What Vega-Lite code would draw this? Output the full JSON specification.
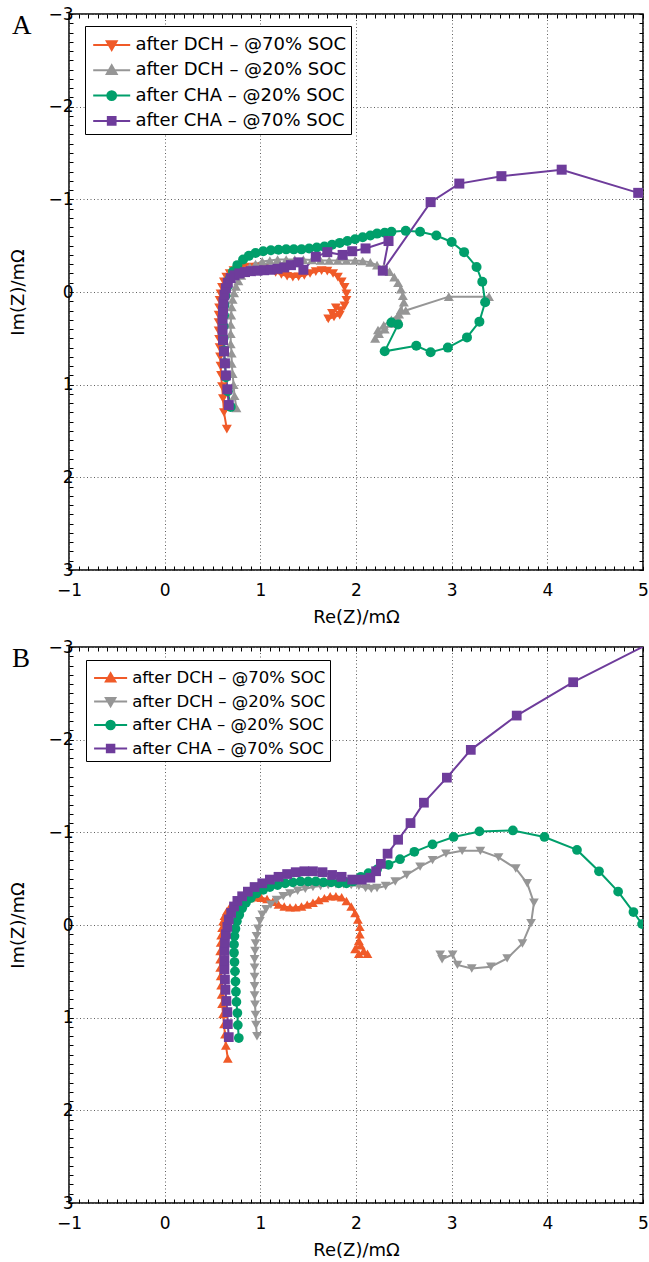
{
  "$schema": "https://vega.github.io/schema/vega-lite/v6.json",
  "background": "white",
  "padding": {"left": 9, "top": 4, "right": 3, "bottom": 3},
  "config": {
    "view": {"stroke": "black", "strokeWidth": 1.5},
    "axis": {"domain": false, "tickColor": "black", "tickSize": -4, "tickWidth": 1, "tickCount": 60, "format": "d", "labelOverlap": false, "labelFlush": false, "labelExpr": "abs(datum.value - round(datum.value)) < 0.000001 ? datum.label : ''", "gridOpacity": {"condition": {"test": "abs(datum.value - round(datum.value)) < 0.000001", "value": 1}, "value": 0}, "labelFont": "DejaVu Sans", "labelFontSize": 17, "labelColor": "black", "titleFont": "DejaVu Sans", "titleFontSize": 18, "titleFontWeight": "normal", "titleColor": "black", "gridColor": "#606060", "gridDash": [1, 2.5], "gridWidth": 1},
    "legend": {"labelFont": "DejaVu Sans", "labelColor": "black", "strokeColor": "black", "fillColor": "white", "labelLimit": 400}
  },
  "datasets": {
    "A": [
      {"s": "after DCH – @70% SOC", "i": 1, "re": 0.65, "im": 1.48},
      {"s": "after DCH – @70% SOC", "i": 2, "re": 0.62, "im": 1.30},
      {"s": "after DCH – @70% SOC", "i": 3, "re": 0.61, "im": 1.15},
      {"s": "after DCH – @70% SOC", "i": 4, "re": 0.60, "im": 1.02},
      {"s": "after DCH – @70% SOC", "i": 5, "re": 0.59, "im": 0.90},
      {"s": "after DCH – @70% SOC", "i": 6, "re": 0.585, "im": 0.80},
      {"s": "after DCH – @70% SOC", "i": 7, "re": 0.58, "im": 0.70},
      {"s": "after DCH – @70% SOC", "i": 8, "re": 0.575, "im": 0.60},
      {"s": "after DCH – @70% SOC", "i": 9, "re": 0.57, "im": 0.51},
      {"s": "after DCH – @70% SOC", "i": 10, "re": 0.565, "im": 0.42},
      {"s": "after DCH – @70% SOC", "i": 11, "re": 0.565, "im": 0.33},
      {"s": "after DCH – @70% SOC", "i": 12, "re": 0.565, "im": 0.25},
      {"s": "after DCH – @70% SOC", "i": 13, "re": 0.57, "im": 0.17},
      {"s": "after DCH – @70% SOC", "i": 14, "re": 0.575, "im": 0.09},
      {"s": "after DCH – @70% SOC", "i": 15, "re": 0.585, "im": 0.02},
      {"s": "after DCH – @70% SOC", "i": 16, "re": 0.60, "im": -0.05},
      {"s": "after DCH – @70% SOC", "i": 17, "re": 0.62, "im": -0.11},
      {"s": "after DCH – @70% SOC", "i": 18, "re": 0.645, "im": -0.16},
      {"s": "after DCH – @70% SOC", "i": 19, "re": 0.68, "im": -0.20},
      {"s": "after DCH – @70% SOC", "i": 20, "re": 0.72, "im": -0.23},
      {"s": "after DCH – @70% SOC", "i": 21, "re": 0.77, "im": -0.25},
      {"s": "after DCH – @70% SOC", "i": 22, "re": 0.83, "im": -0.265},
      {"s": "after DCH – @70% SOC", "i": 23, "re": 0.90, "im": -0.27},
      {"s": "after DCH – @70% SOC", "i": 24, "re": 0.97, "im": -0.27},
      {"s": "after DCH – @70% SOC", "i": 25, "re": 1.04, "im": -0.26},
      {"s": "after DCH – @70% SOC", "i": 26, "re": 1.10, "im": -0.24},
      {"s": "after DCH – @70% SOC", "i": 27, "re": 1.16, "im": -0.21},
      {"s": "after DCH – @70% SOC", "i": 28, "re": 1.22, "im": -0.19},
      {"s": "after DCH – @70% SOC", "i": 29, "re": 1.28, "im": -0.17},
      {"s": "after DCH – @70% SOC", "i": 30, "re": 1.34, "im": -0.16},
      {"s": "after DCH – @70% SOC", "i": 31, "re": 1.40, "im": -0.165},
      {"s": "after DCH – @70% SOC", "i": 32, "re": 1.46, "im": -0.18},
      {"s": "after DCH – @70% SOC", "i": 33, "re": 1.52, "im": -0.20},
      {"s": "after DCH – @70% SOC", "i": 34, "re": 1.58, "im": -0.22},
      {"s": "after DCH – @70% SOC", "i": 35, "re": 1.64, "im": -0.23},
      {"s": "after DCH – @70% SOC", "i": 36, "re": 1.70, "im": -0.225},
      {"s": "after DCH – @70% SOC", "i": 37, "re": 1.76, "im": -0.20},
      {"s": "after DCH – @70% SOC", "i": 38, "re": 1.81, "im": -0.16},
      {"s": "after DCH – @70% SOC", "i": 39, "re": 1.85, "im": -0.11},
      {"s": "after DCH – @70% SOC", "i": 40, "re": 1.88, "im": -0.05},
      {"s": "after DCH – @70% SOC", "i": 41, "re": 1.90, "im": 0.02},
      {"s": "after DCH – @70% SOC", "i": 42, "re": 1.90, "im": 0.09},
      {"s": "after DCH – @70% SOC", "i": 43, "re": 1.88, "im": 0.15},
      {"s": "after DCH – @70% SOC", "i": 44, "re": 1.84, "im": 0.20},
      {"s": "after DCH – @70% SOC", "i": 45, "re": 1.79, "im": 0.17},
      {"s": "after DCH – @70% SOC", "i": 46, "re": 1.75, "im": 0.23},
      {"s": "after DCH – @70% SOC", "i": 47, "re": 1.71, "im": 0.29},
      {"s": "after DCH – @70% SOC", "i": 48, "re": 1.77, "im": 0.27},
      {"s": "after DCH – @70% SOC", "i": 49, "re": 1.83, "im": 0.25},
      {"s": "after DCH – @20% SOC", "i": 1, "re": 0.75, "im": 1.25},
      {"s": "after DCH – @20% SOC", "i": 2, "re": 0.73, "im": 1.12},
      {"s": "after DCH – @20% SOC", "i": 3, "re": 0.72, "im": 1.00},
      {"s": "after DCH – @20% SOC", "i": 4, "re": 0.71, "im": 0.88},
      {"s": "after DCH – @20% SOC", "i": 5, "re": 0.70, "im": 0.77},
      {"s": "after DCH – @20% SOC", "i": 6, "re": 0.70, "im": 0.66},
      {"s": "after DCH – @20% SOC", "i": 7, "re": 0.69, "im": 0.56},
      {"s": "after DCH – @20% SOC", "i": 8, "re": 0.69, "im": 0.45},
      {"s": "after DCH – @20% SOC", "i": 9, "re": 0.69, "im": 0.35},
      {"s": "after DCH – @20% SOC", "i": 10, "re": 0.695, "im": 0.25},
      {"s": "after DCH – @20% SOC", "i": 11, "re": 0.70, "im": 0.16},
      {"s": "after DCH – @20% SOC", "i": 12, "re": 0.71, "im": 0.08},
      {"s": "after DCH – @20% SOC", "i": 13, "re": 0.725, "im": 0.01},
      {"s": "after DCH – @20% SOC", "i": 14, "re": 0.745, "im": -0.06},
      {"s": "after DCH – @20% SOC", "i": 15, "re": 0.77, "im": -0.12},
      {"s": "after DCH – @20% SOC", "i": 16, "re": 0.80, "im": -0.18},
      {"s": "after DCH – @20% SOC", "i": 17, "re": 0.84, "im": -0.23},
      {"s": "after DCH – @20% SOC", "i": 18, "re": 0.89, "im": -0.27},
      {"s": "after DCH – @20% SOC", "i": 19, "re": 0.95, "im": -0.30},
      {"s": "after DCH – @20% SOC", "i": 20, "re": 1.02, "im": -0.33},
      {"s": "after DCH – @20% SOC", "i": 21, "re": 1.10, "im": -0.34},
      {"s": "after DCH – @20% SOC", "i": 22, "re": 1.18, "im": -0.35},
      {"s": "after DCH – @20% SOC", "i": 23, "re": 1.27, "im": -0.35},
      {"s": "after DCH – @20% SOC", "i": 24, "re": 1.36, "im": -0.35},
      {"s": "after DCH – @20% SOC", "i": 25, "re": 1.45, "im": -0.35},
      {"s": "after DCH – @20% SOC", "i": 26, "re": 1.54, "im": -0.345},
      {"s": "after DCH – @20% SOC", "i": 27, "re": 1.63, "im": -0.34},
      {"s": "after DCH – @20% SOC", "i": 28, "re": 1.72, "im": -0.34},
      {"s": "after DCH – @20% SOC", "i": 29, "re": 1.81, "im": -0.34},
      {"s": "after DCH – @20% SOC", "i": 30, "re": 1.90, "im": -0.34},
      {"s": "after DCH – @20% SOC", "i": 31, "re": 1.99, "im": -0.34},
      {"s": "after DCH – @20% SOC", "i": 32, "re": 2.07, "im": -0.335},
      {"s": "after DCH – @20% SOC", "i": 33, "re": 2.15, "im": -0.32},
      {"s": "after DCH – @20% SOC", "i": 34, "re": 2.22, "im": -0.29},
      {"s": "after DCH – @20% SOC", "i": 35, "re": 2.29, "im": -0.26},
      {"s": "after DCH – @20% SOC", "i": 36, "re": 2.35, "im": -0.22},
      {"s": "after DCH – @20% SOC", "i": 37, "re": 2.40, "im": -0.16},
      {"s": "after DCH – @20% SOC", "i": 38, "re": 2.44, "im": -0.10},
      {"s": "after DCH – @20% SOC", "i": 39, "re": 2.47, "im": -0.03},
      {"s": "after DCH – @20% SOC", "i": 40, "re": 2.49, "im": 0.04},
      {"s": "after DCH – @20% SOC", "i": 41, "re": 2.50, "im": 0.11},
      {"s": "after DCH – @20% SOC", "i": 42, "re": 2.47, "im": 0.19},
      {"s": "after DCH – @20% SOC", "i": 43, "re": 2.43, "im": 0.27},
      {"s": "after DCH – @20% SOC", "i": 44, "re": 2.37, "im": 0.34},
      {"s": "after DCH – @20% SOC", "i": 45, "re": 2.30, "im": 0.40},
      {"s": "after DCH – @20% SOC", "i": 46, "re": 2.24, "im": 0.45},
      {"s": "after DCH – @20% SOC", "i": 47, "re": 2.20, "im": 0.50},
      {"s": "after DCH – @20% SOC", "i": 48, "re": 2.23, "im": 0.41},
      {"s": "after DCH – @20% SOC", "i": 49, "re": 2.29, "im": 0.36},
      {"s": "after DCH – @20% SOC", "i": 50, "re": 2.37, "im": 0.30},
      {"s": "after DCH – @20% SOC", "i": 51, "re": 2.45, "im": 0.24},
      {"s": "after DCH – @20% SOC", "i": 52, "re": 2.52, "im": 0.20},
      {"s": "after DCH – @20% SOC", "i": 53, "re": 2.97, "im": 0.05},
      {"s": "after DCH – @20% SOC", "i": 54, "re": 3.39, "im": 0.05},
      {"s": "after CHA – @20% SOC", "i": 1, "re": 0.69, "im": 1.24},
      {"s": "after CHA – @20% SOC", "i": 2, "re": 0.66, "im": 1.07},
      {"s": "after CHA – @20% SOC", "i": 3, "re": 0.64, "im": 0.92},
      {"s": "after CHA – @20% SOC", "i": 4, "re": 0.63, "im": 0.77},
      {"s": "after CHA – @20% SOC", "i": 5, "re": 0.62, "im": 0.63},
      {"s": "after CHA – @20% SOC", "i": 6, "re": 0.615, "im": 0.50},
      {"s": "after CHA – @20% SOC", "i": 7, "re": 0.615, "im": 0.37},
      {"s": "after CHA – @20% SOC", "i": 8, "re": 0.62, "im": 0.25},
      {"s": "after CHA – @20% SOC", "i": 9, "re": 0.625, "im": 0.14},
      {"s": "after CHA – @20% SOC", "i": 10, "re": 0.635, "im": 0.04},
      {"s": "after CHA – @20% SOC", "i": 11, "re": 0.655, "im": -0.06},
      {"s": "after CHA – @20% SOC", "i": 12, "re": 0.68, "im": -0.14},
      {"s": "after CHA – @20% SOC", "i": 13, "re": 0.715, "im": -0.22},
      {"s": "after CHA – @20% SOC", "i": 14, "re": 0.76, "im": -0.29},
      {"s": "after CHA – @20% SOC", "i": 15, "re": 0.82, "im": -0.35},
      {"s": "after CHA – @20% SOC", "i": 16, "re": 0.88, "im": -0.39},
      {"s": "after CHA – @20% SOC", "i": 17, "re": 0.95, "im": -0.42},
      {"s": "after CHA – @20% SOC", "i": 18, "re": 1.03, "im": -0.44},
      {"s": "after CHA – @20% SOC", "i": 19, "re": 1.11, "im": -0.45},
      {"s": "after CHA – @20% SOC", "i": 20, "re": 1.19, "im": -0.455},
      {"s": "after CHA – @20% SOC", "i": 21, "re": 1.27, "im": -0.46},
      {"s": "after CHA – @20% SOC", "i": 22, "re": 1.35, "im": -0.46},
      {"s": "after CHA – @20% SOC", "i": 23, "re": 1.43, "im": -0.46},
      {"s": "after CHA – @20% SOC", "i": 24, "re": 1.51, "im": -0.47},
      {"s": "after CHA – @20% SOC", "i": 25, "re": 1.59, "im": -0.48},
      {"s": "after CHA – @20% SOC", "i": 26, "re": 1.67, "im": -0.49},
      {"s": "after CHA – @20% SOC", "i": 27, "re": 1.75, "im": -0.51},
      {"s": "after CHA – @20% SOC", "i": 28, "re": 1.83, "im": -0.53},
      {"s": "after CHA – @20% SOC", "i": 29, "re": 1.91, "im": -0.55},
      {"s": "after CHA – @20% SOC", "i": 30, "re": 1.99, "im": -0.57},
      {"s": "after CHA – @20% SOC", "i": 31, "re": 2.07, "im": -0.59},
      {"s": "after CHA – @20% SOC", "i": 32, "re": 2.15, "im": -0.61},
      {"s": "after CHA – @20% SOC", "i": 33, "re": 2.22, "im": -0.63},
      {"s": "after CHA – @20% SOC", "i": 34, "re": 2.30, "im": -0.64},
      {"s": "after CHA – @20% SOC", "i": 35, "re": 2.37, "im": -0.65},
      {"s": "after CHA – @20% SOC", "i": 36, "re": 2.52, "im": -0.66},
      {"s": "after CHA – @20% SOC", "i": 37, "re": 2.67, "im": -0.65},
      {"s": "after CHA – @20% SOC", "i": 38, "re": 2.84, "im": -0.61},
      {"s": "after CHA – @20% SOC", "i": 39, "re": 3.00, "im": -0.54},
      {"s": "after CHA – @20% SOC", "i": 40, "re": 3.13, "im": -0.43},
      {"s": "after CHA – @20% SOC", "i": 41, "re": 3.26, "im": -0.27},
      {"s": "after CHA – @20% SOC", "i": 42, "re": 3.32, "im": -0.11},
      {"s": "after CHA – @20% SOC", "i": 43, "re": 3.35, "im": 0.11},
      {"s": "after CHA – @20% SOC", "i": 44, "re": 3.29, "im": 0.32},
      {"s": "after CHA – @20% SOC", "i": 45, "re": 3.16, "im": 0.49},
      {"s": "after CHA – @20% SOC", "i": 46, "re": 2.96, "im": 0.60},
      {"s": "after CHA – @20% SOC", "i": 47, "re": 2.78, "im": 0.65},
      {"s": "after CHA – @20% SOC", "i": 48, "re": 2.63, "im": 0.58},
      {"s": "after CHA – @20% SOC", "i": 49, "re": 2.30, "im": 0.64},
      {"s": "after CHA – @20% SOC", "i": 50, "re": 2.44, "im": 0.35},
      {"s": "after CHA – @20% SOC", "i": 51, "re": 2.37, "im": 0.33},
      {"s": "after CHA – @70% SOC", "i": 1, "re": 0.67, "im": 1.22},
      {"s": "after CHA – @70% SOC", "i": 2, "re": 0.655, "im": 1.05},
      {"s": "after CHA – @70% SOC", "i": 3, "re": 0.64, "im": 0.90},
      {"s": "after CHA – @70% SOC", "i": 4, "re": 0.63, "im": 0.77},
      {"s": "after CHA – @70% SOC", "i": 5, "re": 0.62, "im": 0.64},
      {"s": "after CHA – @70% SOC", "i": 6, "re": 0.61, "im": 0.52},
      {"s": "after CHA – @70% SOC", "i": 7, "re": 0.605, "im": 0.41},
      {"s": "after CHA – @70% SOC", "i": 8, "re": 0.605, "im": 0.30},
      {"s": "after CHA – @70% SOC", "i": 9, "re": 0.61, "im": 0.20},
      {"s": "after CHA – @70% SOC", "i": 10, "re": 0.615, "im": 0.11},
      {"s": "after CHA – @70% SOC", "i": 11, "re": 0.625, "im": 0.03},
      {"s": "after CHA – @70% SOC", "i": 12, "re": 0.64, "im": -0.04},
      {"s": "after CHA – @70% SOC", "i": 13, "re": 0.66, "im": -0.10},
      {"s": "after CHA – @70% SOC", "i": 14, "re": 0.69, "im": -0.15},
      {"s": "after CHA – @70% SOC", "i": 15, "re": 0.73, "im": -0.18},
      {"s": "after CHA – @70% SOC", "i": 16, "re": 0.78, "im": -0.20},
      {"s": "after CHA – @70% SOC", "i": 17, "re": 0.84, "im": -0.215},
      {"s": "after CHA – @70% SOC", "i": 18, "re": 0.90, "im": -0.225},
      {"s": "after CHA – @70% SOC", "i": 19, "re": 0.97, "im": -0.23},
      {"s": "after CHA – @70% SOC", "i": 20, "re": 1.04, "im": -0.235},
      {"s": "after CHA – @70% SOC", "i": 21, "re": 1.11, "im": -0.24},
      {"s": "after CHA – @70% SOC", "i": 22, "re": 1.18, "im": -0.25},
      {"s": "after CHA – @70% SOC", "i": 23, "re": 1.25, "im": -0.265},
      {"s": "after CHA – @70% SOC", "i": 24, "re": 1.32, "im": -0.29},
      {"s": "after CHA – @70% SOC", "i": 25, "re": 1.40, "im": -0.32},
      {"s": "after CHA – @70% SOC", "i": 26, "re": 1.45, "im": -0.24},
      {"s": "after CHA – @70% SOC", "i": 27, "re": 1.58, "im": -0.38},
      {"s": "after CHA – @70% SOC", "i": 28, "re": 1.70, "im": -0.43},
      {"s": "after CHA – @70% SOC", "i": 29, "re": 1.86, "im": -0.40},
      {"s": "after CHA – @70% SOC", "i": 30, "re": 1.96, "im": -0.44},
      {"s": "after CHA – @70% SOC", "i": 31, "re": 2.10, "im": -0.47},
      {"s": "after CHA – @70% SOC", "i": 32, "re": 2.34, "im": -0.55},
      {"s": "after CHA – @70% SOC", "i": 33, "re": 2.28, "im": -0.23},
      {"s": "after CHA – @70% SOC", "i": 34, "re": 2.78, "im": -0.97},
      {"s": "after CHA – @70% SOC", "i": 35, "re": 3.08, "im": -1.17},
      {"s": "after CHA – @70% SOC", "i": 36, "re": 3.52, "im": -1.25},
      {"s": "after CHA – @70% SOC", "i": 37, "re": 4.15, "im": -1.32},
      {"s": "after CHA – @70% SOC", "i": 38, "re": 4.95, "im": -1.07},
      {"s": "after CHA – @70% SOC", "i": 39, "re": 5.5, "im": -0.9}
    ],
    "B": [
      {"s": "after DCH – @70% SOC", "i": 1, "re": 0.66, "im": 1.44},
      {"s": "after DCH – @70% SOC", "i": 2, "re": 0.64, "im": 1.30},
      {"s": "after DCH – @70% SOC", "i": 3, "re": 0.63, "im": 1.18},
      {"s": "after DCH – @70% SOC", "i": 4, "re": 0.62, "im": 1.07},
      {"s": "after DCH – @70% SOC", "i": 5, "re": 0.61, "im": 0.96},
      {"s": "after DCH – @70% SOC", "i": 6, "re": 0.60, "im": 0.85},
      {"s": "after DCH – @70% SOC", "i": 7, "re": 0.595, "im": 0.75},
      {"s": "after DCH – @70% SOC", "i": 8, "re": 0.59, "im": 0.65},
      {"s": "after DCH – @70% SOC", "i": 9, "re": 0.585, "im": 0.55},
      {"s": "after DCH – @70% SOC", "i": 10, "re": 0.58, "im": 0.46},
      {"s": "after DCH – @70% SOC", "i": 11, "re": 0.58, "im": 0.37},
      {"s": "after DCH – @70% SOC", "i": 12, "re": 0.58, "im": 0.28},
      {"s": "after DCH – @70% SOC", "i": 13, "re": 0.585, "im": 0.19},
      {"s": "after DCH – @70% SOC", "i": 14, "re": 0.59, "im": 0.11},
      {"s": "after DCH – @70% SOC", "i": 15, "re": 0.60, "im": 0.03},
      {"s": "after DCH – @70% SOC", "i": 16, "re": 0.61, "im": -0.04},
      {"s": "after DCH – @70% SOC", "i": 17, "re": 0.625, "im": -0.10},
      {"s": "after DCH – @70% SOC", "i": 18, "re": 0.65, "im": -0.15},
      {"s": "after DCH – @70% SOC", "i": 19, "re": 0.68, "im": -0.19},
      {"s": "after DCH – @70% SOC", "i": 20, "re": 0.72, "im": -0.22},
      {"s": "after DCH – @70% SOC", "i": 21, "re": 0.77, "im": -0.25},
      {"s": "after DCH – @70% SOC", "i": 22, "re": 0.83, "im": -0.275},
      {"s": "after DCH – @70% SOC", "i": 23, "re": 0.89, "im": -0.29},
      {"s": "after DCH – @70% SOC", "i": 24, "re": 0.95, "im": -0.30},
      {"s": "after DCH – @70% SOC", "i": 25, "re": 1.01, "im": -0.295},
      {"s": "after DCH – @70% SOC", "i": 26, "re": 1.07, "im": -0.28},
      {"s": "after DCH – @70% SOC", "i": 27, "re": 1.13, "im": -0.25},
      {"s": "after DCH – @70% SOC", "i": 28, "re": 1.19, "im": -0.22},
      {"s": "after DCH – @70% SOC", "i": 29, "re": 1.25, "im": -0.20},
      {"s": "after DCH – @70% SOC", "i": 30, "re": 1.31, "im": -0.19},
      {"s": "after DCH – @70% SOC", "i": 31, "re": 1.37, "im": -0.19},
      {"s": "after DCH – @70% SOC", "i": 32, "re": 1.43, "im": -0.20},
      {"s": "after DCH – @70% SOC", "i": 33, "re": 1.49, "im": -0.22},
      {"s": "after DCH – @70% SOC", "i": 34, "re": 1.55, "im": -0.24},
      {"s": "after DCH – @70% SOC", "i": 35, "re": 1.61, "im": -0.27},
      {"s": "after DCH – @70% SOC", "i": 36, "re": 1.67, "im": -0.29},
      {"s": "after DCH – @70% SOC", "i": 37, "re": 1.73, "im": -0.31},
      {"s": "after DCH – @70% SOC", "i": 38, "re": 1.79, "im": -0.31},
      {"s": "after DCH – @70% SOC", "i": 39, "re": 1.85, "im": -0.30},
      {"s": "after DCH – @70% SOC", "i": 40, "re": 1.90, "im": -0.26},
      {"s": "after DCH – @70% SOC", "i": 41, "re": 1.95, "im": -0.20},
      {"s": "after DCH – @70% SOC", "i": 42, "re": 1.99, "im": -0.13},
      {"s": "after DCH – @70% SOC", "i": 43, "re": 2.02, "im": -0.06},
      {"s": "after DCH – @70% SOC", "i": 44, "re": 2.04, "im": 0.02},
      {"s": "after DCH – @70% SOC", "i": 45, "re": 2.04, "im": 0.10},
      {"s": "after DCH – @70% SOC", "i": 46, "re": 2.03, "im": 0.17},
      {"s": "after DCH – @70% SOC", "i": 47, "re": 1.99, "im": 0.26},
      {"s": "after DCH – @70% SOC", "i": 48, "re": 2.05, "im": 0.22},
      {"s": "after DCH – @70% SOC", "i": 49, "re": 2.08, "im": 0.28},
      {"s": "after DCH – @70% SOC", "i": 50, "re": 2.12, "im": 0.31},
      {"s": "after DCH – @70% SOC", "i": 51, "re": 2.03, "im": 0.31},
      {"s": "after DCH – @20% SOC", "i": 1, "re": 0.965, "im": 1.20},
      {"s": "after DCH – @20% SOC", "i": 2, "re": 0.955, "im": 1.08},
      {"s": "after DCH – @20% SOC", "i": 3, "re": 0.95, "im": 0.97},
      {"s": "after DCH – @20% SOC", "i": 4, "re": 0.945, "im": 0.86},
      {"s": "after DCH – @20% SOC", "i": 5, "re": 0.94, "im": 0.76},
      {"s": "after DCH – @20% SOC", "i": 6, "re": 0.94, "im": 0.66},
      {"s": "after DCH – @20% SOC", "i": 7, "re": 0.94, "im": 0.56},
      {"s": "after DCH – @20% SOC", "i": 8, "re": 0.94, "im": 0.46},
      {"s": "after DCH – @20% SOC", "i": 9, "re": 0.94, "im": 0.37},
      {"s": "after DCH – @20% SOC", "i": 10, "re": 0.945, "im": 0.28},
      {"s": "after DCH – @20% SOC", "i": 11, "re": 0.95, "im": 0.20},
      {"s": "after DCH – @20% SOC", "i": 12, "re": 0.96, "im": 0.12},
      {"s": "after DCH – @20% SOC", "i": 13, "re": 0.975, "im": 0.04},
      {"s": "after DCH – @20% SOC", "i": 14, "re": 0.995, "im": -0.04},
      {"s": "after DCH – @20% SOC", "i": 15, "re": 1.02, "im": -0.11},
      {"s": "after DCH – @20% SOC", "i": 16, "re": 1.06, "im": -0.17},
      {"s": "after DCH – @20% SOC", "i": 17, "re": 1.11, "im": -0.22},
      {"s": "after DCH – @20% SOC", "i": 18, "re": 1.17, "im": -0.27},
      {"s": "after DCH – @20% SOC", "i": 19, "re": 1.24, "im": -0.31},
      {"s": "after DCH – @20% SOC", "i": 20, "re": 1.31, "im": -0.34},
      {"s": "after DCH – @20% SOC", "i": 21, "re": 1.39, "im": -0.37},
      {"s": "after DCH – @20% SOC", "i": 22, "re": 1.47, "im": -0.39},
      {"s": "after DCH – @20% SOC", "i": 23, "re": 1.55, "im": -0.41},
      {"s": "after DCH – @20% SOC", "i": 24, "re": 1.63, "im": -0.42},
      {"s": "after DCH – @20% SOC", "i": 25, "re": 1.71, "im": -0.43},
      {"s": "after DCH – @20% SOC", "i": 26, "re": 1.79, "im": -0.44},
      {"s": "after DCH – @20% SOC", "i": 27, "re": 1.87, "im": -0.44},
      {"s": "after DCH – @20% SOC", "i": 28, "re": 1.95, "im": -0.43},
      {"s": "after DCH – @20% SOC", "i": 29, "re": 2.03, "im": -0.42},
      {"s": "after DCH – @20% SOC", "i": 30, "re": 2.10, "im": -0.40},
      {"s": "after DCH – @20% SOC", "i": 31, "re": 2.16, "im": -0.39},
      {"s": "after DCH – @20% SOC", "i": 32, "re": 2.22, "im": -0.40},
      {"s": "after DCH – @20% SOC", "i": 33, "re": 2.31, "im": -0.42},
      {"s": "after DCH – @20% SOC", "i": 34, "re": 2.41, "im": -0.47},
      {"s": "after DCH – @20% SOC", "i": 35, "re": 2.53, "im": -0.54},
      {"s": "after DCH – @20% SOC", "i": 36, "re": 2.67, "im": -0.63},
      {"s": "after DCH – @20% SOC", "i": 37, "re": 2.80, "im": -0.70},
      {"s": "after DCH – @20% SOC", "i": 38, "re": 2.94, "im": -0.77},
      {"s": "after DCH – @20% SOC", "i": 39, "re": 3.11, "im": -0.80},
      {"s": "after DCH – @20% SOC", "i": 40, "re": 3.30, "im": -0.80},
      {"s": "after DCH – @20% SOC", "i": 41, "re": 3.49, "im": -0.73},
      {"s": "after DCH – @20% SOC", "i": 42, "re": 3.67, "im": -0.61},
      {"s": "after DCH – @20% SOC", "i": 43, "re": 3.79, "im": -0.45},
      {"s": "after DCH – @20% SOC", "i": 44, "re": 3.86, "im": -0.24},
      {"s": "after DCH – @20% SOC", "i": 45, "re": 3.83, "im": -0.02},
      {"s": "after DCH – @20% SOC", "i": 46, "re": 3.74, "im": 0.20},
      {"s": "after DCH – @20% SOC", "i": 47, "re": 3.58, "im": 0.36},
      {"s": "after DCH – @20% SOC", "i": 48, "re": 3.41, "im": 0.45},
      {"s": "after DCH – @20% SOC", "i": 49, "re": 3.21, "im": 0.47},
      {"s": "after DCH – @20% SOC", "i": 50, "re": 3.06, "im": 0.43},
      {"s": "after DCH – @20% SOC", "i": 51, "re": 3.01, "im": 0.32},
      {"s": "after DCH – @20% SOC", "i": 52, "re": 2.90, "im": 0.37},
      {"s": "after DCH – @20% SOC", "i": 53, "re": 2.88, "im": 0.32},
      {"s": "after CHA – @20% SOC", "i": 1, "re": 0.775, "im": 1.22},
      {"s": "after CHA – @20% SOC", "i": 2, "re": 0.765, "im": 1.08},
      {"s": "after CHA – @20% SOC", "i": 3, "re": 0.76, "im": 0.95},
      {"s": "after CHA – @20% SOC", "i": 4, "re": 0.75, "im": 0.83},
      {"s": "after CHA – @20% SOC", "i": 5, "re": 0.745, "im": 0.72},
      {"s": "after CHA – @20% SOC", "i": 6, "re": 0.74, "im": 0.61},
      {"s": "after CHA – @20% SOC", "i": 7, "re": 0.735, "im": 0.50},
      {"s": "after CHA – @20% SOC", "i": 8, "re": 0.73, "im": 0.40},
      {"s": "after CHA – @20% SOC", "i": 9, "re": 0.725, "im": 0.30},
      {"s": "after CHA – @20% SOC", "i": 10, "re": 0.725, "im": 0.21},
      {"s": "after CHA – @20% SOC", "i": 11, "re": 0.73, "im": 0.12},
      {"s": "after CHA – @20% SOC", "i": 12, "re": 0.74, "im": 0.04},
      {"s": "after CHA – @20% SOC", "i": 13, "re": 0.755, "im": -0.04},
      {"s": "after CHA – @20% SOC", "i": 14, "re": 0.78, "im": -0.11},
      {"s": "after CHA – @20% SOC", "i": 15, "re": 0.81, "im": -0.18},
      {"s": "after CHA – @20% SOC", "i": 16, "re": 0.85, "im": -0.24},
      {"s": "after CHA – @20% SOC", "i": 17, "re": 0.90, "im": -0.29},
      {"s": "after CHA – @20% SOC", "i": 18, "re": 0.96, "im": -0.34},
      {"s": "after CHA – @20% SOC", "i": 19, "re": 1.03, "im": -0.38},
      {"s": "after CHA – @20% SOC", "i": 20, "re": 1.10, "im": -0.41},
      {"s": "after CHA – @20% SOC", "i": 21, "re": 1.18, "im": -0.43},
      {"s": "after CHA – @20% SOC", "i": 22, "re": 1.26, "im": -0.45},
      {"s": "after CHA – @20% SOC", "i": 23, "re": 1.34, "im": -0.46},
      {"s": "after CHA – @20% SOC", "i": 24, "re": 1.42, "im": -0.47},
      {"s": "after CHA – @20% SOC", "i": 25, "re": 1.50, "im": -0.47},
      {"s": "after CHA – @20% SOC", "i": 26, "re": 1.58, "im": -0.47},
      {"s": "after CHA – @20% SOC", "i": 27, "re": 1.66, "im": -0.46},
      {"s": "after CHA – @20% SOC", "i": 28, "re": 1.74, "im": -0.46},
      {"s": "after CHA – @20% SOC", "i": 29, "re": 1.82, "im": -0.45},
      {"s": "after CHA – @20% SOC", "i": 30, "re": 1.90, "im": -0.45},
      {"s": "after CHA – @20% SOC", "i": 31, "re": 1.97, "im": -0.47},
      {"s": "after CHA – @20% SOC", "i": 32, "re": 2.05, "im": -0.52},
      {"s": "after CHA – @20% SOC", "i": 33, "re": 2.13, "im": -0.56},
      {"s": "after CHA – @20% SOC", "i": 34, "re": 2.22, "im": -0.60},
      {"s": "after CHA – @20% SOC", "i": 35, "re": 2.34, "im": -0.65},
      {"s": "after CHA – @20% SOC", "i": 36, "re": 2.46, "im": -0.71},
      {"s": "after CHA – @20% SOC", "i": 37, "re": 2.61, "im": -0.79},
      {"s": "after CHA – @20% SOC", "i": 38, "re": 2.80, "im": -0.87},
      {"s": "after CHA – @20% SOC", "i": 39, "re": 3.02, "im": -0.95},
      {"s": "after CHA – @20% SOC", "i": 40, "re": 3.29, "im": -1.01},
      {"s": "after CHA – @20% SOC", "i": 41, "re": 3.64, "im": -1.02},
      {"s": "after CHA – @20% SOC", "i": 42, "re": 3.97, "im": -0.95},
      {"s": "after CHA – @20% SOC", "i": 43, "re": 4.31, "im": -0.81},
      {"s": "after CHA – @20% SOC", "i": 44, "re": 4.54, "im": -0.58},
      {"s": "after CHA – @20% SOC", "i": 45, "re": 4.74, "im": -0.36},
      {"s": "after CHA – @20% SOC", "i": 46, "re": 4.90, "im": -0.14},
      {"s": "after CHA – @20% SOC", "i": 47, "re": 4.99, "im": -0.01},
      {"s": "after CHA – @70% SOC", "i": 1, "re": 0.67, "im": 1.21},
      {"s": "after CHA – @70% SOC", "i": 2, "re": 0.66, "im": 1.07},
      {"s": "after CHA – @70% SOC", "i": 3, "re": 0.655, "im": 0.94},
      {"s": "after CHA – @70% SOC", "i": 4, "re": 0.645, "im": 0.82},
      {"s": "after CHA – @70% SOC", "i": 5, "re": 0.635, "im": 0.70},
      {"s": "after CHA – @70% SOC", "i": 6, "re": 0.63, "im": 0.59},
      {"s": "after CHA – @70% SOC", "i": 7, "re": 0.625, "im": 0.48},
      {"s": "after CHA – @70% SOC", "i": 8, "re": 0.625, "im": 0.38},
      {"s": "after CHA – @70% SOC", "i": 9, "re": 0.625, "im": 0.28},
      {"s": "after CHA – @70% SOC", "i": 10, "re": 0.63, "im": 0.19},
      {"s": "after CHA – @70% SOC", "i": 11, "re": 0.64, "im": 0.10},
      {"s": "after CHA – @70% SOC", "i": 12, "re": 0.655, "im": 0.02},
      {"s": "after CHA – @70% SOC", "i": 13, "re": 0.67, "im": -0.06},
      {"s": "after CHA – @70% SOC", "i": 14, "re": 0.695, "im": -0.13},
      {"s": "after CHA – @70% SOC", "i": 15, "re": 0.725, "im": -0.20},
      {"s": "after CHA – @70% SOC", "i": 16, "re": 0.76, "im": -0.26},
      {"s": "after CHA – @70% SOC", "i": 17, "re": 0.81, "im": -0.31},
      {"s": "after CHA – @70% SOC", "i": 18, "re": 0.87, "im": -0.36},
      {"s": "after CHA – @70% SOC", "i": 19, "re": 0.94, "im": -0.41},
      {"s": "after CHA – @70% SOC", "i": 20, "re": 1.02, "im": -0.45},
      {"s": "after CHA – @70% SOC", "i": 21, "re": 1.10, "im": -0.49},
      {"s": "after CHA – @70% SOC", "i": 22, "re": 1.19, "im": -0.52},
      {"s": "after CHA – @70% SOC", "i": 23, "re": 1.28, "im": -0.55},
      {"s": "after CHA – @70% SOC", "i": 24, "re": 1.37, "im": -0.57},
      {"s": "after CHA – @70% SOC", "i": 25, "re": 1.46, "im": -0.58},
      {"s": "after CHA – @70% SOC", "i": 26, "re": 1.55, "im": -0.58},
      {"s": "after CHA – @70% SOC", "i": 27, "re": 1.65, "im": -0.57},
      {"s": "after CHA – @70% SOC", "i": 28, "re": 1.75, "im": -0.54},
      {"s": "after CHA – @70% SOC", "i": 29, "re": 1.85, "im": -0.52},
      {"s": "after CHA – @70% SOC", "i": 30, "re": 1.96, "im": -0.49},
      {"s": "after CHA – @70% SOC", "i": 31, "re": 2.06, "im": -0.49},
      {"s": "after CHA – @70% SOC", "i": 32, "re": 2.15, "im": -0.51},
      {"s": "after CHA – @70% SOC", "i": 33, "re": 2.21, "im": -0.58},
      {"s": "after CHA – @70% SOC", "i": 34, "re": 2.26, "im": -0.66},
      {"s": "after CHA – @70% SOC", "i": 35, "re": 2.33, "im": -0.77},
      {"s": "after CHA – @70% SOC", "i": 36, "re": 2.44, "im": -0.92},
      {"s": "after CHA – @70% SOC", "i": 37, "re": 2.57, "im": -1.10},
      {"s": "after CHA – @70% SOC", "i": 38, "re": 2.71, "im": -1.32},
      {"s": "after CHA – @70% SOC", "i": 39, "re": 2.95, "im": -1.59},
      {"s": "after CHA – @70% SOC", "i": 40, "re": 3.20, "im": -1.89},
      {"s": "after CHA – @70% SOC", "i": 41, "re": 3.68, "im": -2.26},
      {"s": "after CHA – @70% SOC", "i": 42, "re": 4.27, "im": -2.62},
      {"s": "after CHA – @70% SOC", "i": 43, "re": 5.3, "im": -3.16}
    ]
  },
  "spacing": 77,
  "bounds": "flush",
  "resolve": {"scale": {"color": "independent", "fill": "independent", "stroke": "independent", "shape": "independent", "size": "independent", "x": "independent", "y": "independent"}, "legend": {"fill": "independent", "stroke": "independent", "shape": "independent"}},
  "vconcat": [
    {
      "width": 574,
      "height": 556,
      "title": {"text": "A", "anchor": "start", "frame": "group", "font": "Liberation Serif", "fontSize": 27, "fontWeight": "normal", "color": "black", "baseline": "alphabetic", "offset": 0, "dx": -57, "dy": 56},
      "data": {"name": "A"},
      "resolve": {"axis": {"x": "independent", "y": "independent"}, "scale": {"shape": "independent", "fill": "independent", "stroke": "independent"}},
      "layer": [
        {
          "mark": {"type": "line", "strokeWidth": 2, "clip": true},
          "encoding": {
            "x": {"field": "re", "type": "quantitative", "scale": {"domain": [-1, 5], "nice": false, "zero": false}, "axis": {"orient": "bottom", "grid": true, "title": "Re(Z)/mΩ", "labelPadding": 16, "titlePadding": 10}},
            "y": {"field": "im", "type": "quantitative", "scale": {"domain": [-3, 3], "nice": false, "zero": false, "reverse": true}, "axis": {"orient": "left", "grid": true, "title": "Im(Z)/mΩ", "labelPadding": 0, "titlePadding": 20}},
            "order": {"field": "i", "type": "quantitative"},
            "color": {"field": "s", "type": "nominal", "sort": null, "legend": null,
              "scale": {"domain": ["after DCH – @70% SOC", "after DCH – @20% SOC", "after CHA – @20% SOC", "after CHA – @70% SOC"], "range": ["#F05A28", "#969696", "#009F6B", "#6E3C9B"]}}
          }
        },
        {
          "mark": {"type": "point", "filled": true, "opacity": 1, "clip": true},
          "encoding": {
            "x": {"field": "re", "type": "quantitative", "axis": {"orient": "top", "labels": false, "grid": false, "title": null}},
            "y": {"field": "im", "type": "quantitative", "axis": {"orient": "right", "labels": false, "grid": false, "title": null}},
            "color": {"field": "s", "type": "nominal", "sort": null, "legend": null},
            "shape": {"field": "s", "type": "nominal", "sort": null, "legend": null,
              "scale": {"domain": ["after DCH – @70% SOC", "after DCH – @20% SOC", "after CHA – @20% SOC", "after CHA – @70% SOC"], "range": ["triangle-down", "triangle-up", "circle", "square"]}},
            "size": {"field": "s", "type": "nominal", "sort": null, "legend": null,
              "scale": {"domain": ["after DCH – @70% SOC", "after DCH – @20% SOC", "after CHA – @20% SOC", "after CHA – @70% SOC"], "range": [100, 100, 95, 60]}}
          }
        },
        {
          "mark": {"type": "point", "filled": true, "opacity": 0, "strokeWidth": 2, "clip": true},
          "encoding": {
            "x": {"field": "re", "type": "quantitative", "axis": null},
            "y": {"field": "im", "type": "quantitative", "axis": null},
            "fill": {"field": "s", "type": "nominal", "sort": null,
              "scale": {"domain": ["after DCH – @70% SOC", "after DCH – @20% SOC", "after CHA – @20% SOC", "after CHA – @70% SOC"], "range": ["#F05A28", "#969696", "#009F6B", "#6E3C9B"]},
              "legend": {"title": null, "orient": "none", "legendX": 16, "legendY": 12, "padding": 4, "rowPadding": 1.3, "labelFontSize": 18, "labelOffset": 8.7, "symbolOffset": 7.7, "symbolSize": 762, "symbolStrokeWidth": 2, "symbolOpacity": 1}},
            "stroke": {"field": "s", "type": "nominal", "sort": null,
              "scale": {"domain": ["after DCH – @70% SOC", "after DCH – @20% SOC", "after CHA – @20% SOC", "after CHA – @70% SOC"], "range": ["#F05A28", "#969696", "#009F6B", "#6E3C9B"]},
              "legend": {"title": null, "orient": "none", "legendX": 16, "legendY": 12, "padding": 4, "rowPadding": 1.3, "labelFontSize": 18, "labelOffset": 8.7, "symbolOffset": 7.7, "symbolSize": 762, "symbolStrokeWidth": 2, "symbolOpacity": 1}},
            "shape": {"field": "s", "type": "nominal", "sort": null,
              "scale": {"domain": ["after DCH – @70% SOC", "after DCH – @20% SOC", "after CHA – @20% SOC", "after CHA – @70% SOC"], "range": ["M-1.34,0H1.34M-0.36,-0.27L0.36,-0.27L0,0.36Z", "M-1.34,0H1.34M-0.36,0.27L0.36,0.27L0,-0.36Z", "M-1.34,0H1.34M-0.32,0A0.32,0.32,0,1,0,0.32,0A0.32,0.32,0,1,0,-0.32,0Z", "M-1.34,0H1.34M-0.28,-0.28H0.28V0.28H-0.28Z"]},
              "legend": {"title": null, "orient": "none", "legendX": 16, "legendY": 12, "padding": 4, "rowPadding": 1.3, "labelFontSize": 18, "labelOffset": 8.7, "symbolOffset": 7.7, "symbolSize": 762, "symbolStrokeWidth": 2, "symbolOpacity": 1}}
          }
        }
      ]
    },
    {
      "width": 574,
      "height": 556,
      "title": {"text": "B", "anchor": "start", "frame": "group", "font": "Liberation Serif", "fontSize": 27, "fontWeight": "normal", "color": "black", "baseline": "alphabetic", "offset": 0, "dx": -57, "dy": 56},
      "data": {"name": "B"},
      "resolve": {"axis": {"x": "independent", "y": "independent"}, "scale": {"shape": "independent", "fill": "independent", "stroke": "independent"}},
      "layer": [
        {
          "mark": {"type": "line", "strokeWidth": 2, "clip": true},
          "encoding": {
            "x": {"field": "re", "type": "quantitative", "scale": {"domain": [-1, 5], "nice": false, "zero": false}, "axis": {"orient": "bottom", "grid": true, "title": "Re(Z)/mΩ", "labelPadding": 16, "titlePadding": 10}},
            "y": {"field": "im", "type": "quantitative", "scale": {"domain": [-3, 3], "nice": false, "zero": false, "reverse": true}, "axis": {"orient": "left", "grid": true, "title": "Im(Z)/mΩ", "labelPadding": 0, "titlePadding": 20}},
            "order": {"field": "i", "type": "quantitative"},
            "color": {"field": "s", "type": "nominal", "sort": null, "legend": null,
              "scale": {"domain": ["after DCH – @70% SOC", "after DCH – @20% SOC", "after CHA – @20% SOC", "after CHA – @70% SOC"], "range": ["#F05A28", "#969696", "#009F6B", "#6E3C9B"]}}
          }
        },
        {
          "mark": {"type": "point", "filled": true, "opacity": 1, "clip": true},
          "encoding": {
            "x": {"field": "re", "type": "quantitative", "axis": {"orient": "top", "labels": false, "grid": false, "title": null}},
            "y": {"field": "im", "type": "quantitative", "axis": {"orient": "right", "labels": false, "grid": false, "title": null}},
            "color": {"field": "s", "type": "nominal", "sort": null, "legend": null},
            "shape": {"field": "s", "type": "nominal", "sort": null, "legend": null,
              "scale": {"domain": ["after DCH – @70% SOC", "after DCH – @20% SOC", "after CHA – @20% SOC", "after CHA – @70% SOC"], "range": ["triangle-up", "triangle-down", "circle", "square"]}},
            "size": {"field": "s", "type": "nominal", "sort": null, "legend": null,
              "scale": {"domain": ["after DCH – @70% SOC", "after DCH – @20% SOC", "after CHA – @20% SOC", "after CHA – @70% SOC"], "range": [95, 95, 85, 55]}}
          }
        },
        {
          "mark": {"type": "point", "filled": true, "opacity": 0, "strokeWidth": 2, "clip": true},
          "encoding": {
            "x": {"field": "re", "type": "quantitative", "axis": null},
            "y": {"field": "im", "type": "quantitative", "axis": null},
            "fill": {"field": "s", "type": "nominal", "sort": null,
              "scale": {"domain": ["after DCH – @70% SOC", "after DCH – @20% SOC", "after CHA – @20% SOC", "after CHA – @70% SOC"], "range": ["#F05A28", "#969696", "#009F6B", "#6E3C9B"]},
              "legend": {"title": null, "orient": "none", "legendX": 17, "legendY": 13, "padding": 4, "rowPadding": 0.5, "labelFontSize": 16.5, "labelOffset": 7.6, "symbolOffset": 6.6, "symbolSize": 666, "symbolStrokeWidth": 2, "symbolOpacity": 1}},
            "stroke": {"field": "s", "type": "nominal", "sort": null,
              "scale": {"domain": ["after DCH – @70% SOC", "after DCH – @20% SOC", "after CHA – @20% SOC", "after CHA – @70% SOC"], "range": ["#F05A28", "#969696", "#009F6B", "#6E3C9B"]},
              "legend": {"title": null, "orient": "none", "legendX": 17, "legendY": 13, "padding": 4, "rowPadding": 0.5, "labelFontSize": 16.5, "labelOffset": 7.6, "symbolOffset": 6.6, "symbolSize": 666, "symbolStrokeWidth": 2, "symbolOpacity": 1}},
            "shape": {"field": "s", "type": "nominal", "sort": null,
              "scale": {"domain": ["after DCH – @70% SOC", "after DCH – @20% SOC", "after CHA – @20% SOC", "after CHA – @70% SOC"], "range": ["M-1.28,0H1.28M-0.37,0.28L0.37,0.28L0,-0.37Z", "M-1.28,0H1.28M-0.37,-0.28L0.37,-0.28L0,0.37Z", "M-1.28,0H1.28M-0.33,0A0.33,0.33,0,1,0,0.33,0A0.33,0.33,0,1,0,-0.33,0Z", "M-1.28,0H1.28M-0.29,-0.29H0.29V0.29H-0.29Z"]},
              "legend": {"title": null, "orient": "none", "legendX": 17, "legendY": 13, "padding": 4, "rowPadding": 0.5, "labelFontSize": 16.5, "labelOffset": 7.6, "symbolOffset": 6.6, "symbolSize": 666, "symbolStrokeWidth": 2, "symbolOpacity": 1}}
          }
        }
      ]
    }
  ]
}
